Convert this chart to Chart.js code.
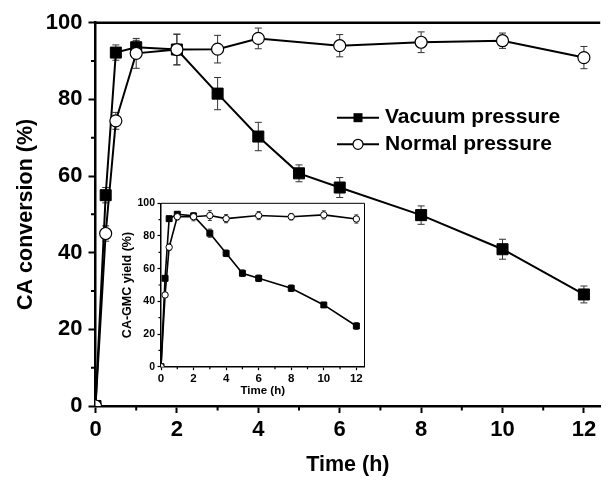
<!DOCTYPE html>
<html>
<head>
<meta charset="utf-8">
<script src="https://cdn.jsdelivr.net/npm/chart.js@4/dist/chart.umd.min.js"></script>
<style>
  html, body { margin: 0; padding: 0; background: #fff; }
  #wrap { position: relative; width: 609px; height: 482px; }
  #mainChart { position: absolute; left: 0; top: 0; }
  #insetChart { position: absolute; left: 105px; top: 190px; }
</style>
</head>
<body>
<div id="wrap">
  <canvas id="mainChart" width="609" height="482"></canvas>
  <canvas id="insetChart" width="265" height="210"></canvas>
</div>
<script>
// main panel - CA conversion (%)
const vacTime = [0, 0.25, 0.5, 1, 2, 3, 4, 5, 6, 8, 10, 12];
const vacConv = [0, 55, 92.2, 93.6, 93, 81.5, 70.3, 60.7, 57, 49.8, 40.9, 29.1];
const vacConvErr = [0, 2, 2, 1.8, 4, 4.2, 3.7, 2.2, 2.6, 2.4, 2.6, 2.2];
const normTime = [0, 0.25, 0.5, 1, 2, 3, 4, 6, 8, 10, 12];
const normConv = [0, 45, 74.4, 92, 93, 93.1, 95.9, 94, 94.9, 95.3, 90.9];
const normConvErr = [0, 2, 2.2, 3.9, 4, 3.6, 2.7, 2.9, 2.7, 2, 2.9];

// inset - CA-GMC yield (%)
const vacYield = [0, 54.1, 90.6, 93.3, 92.3, 81.7, 69.4, 57.2, 54.1, 48, 37.8, 24.9];
const vacYieldErr = [0, 1.5, 1.5, 1.5, 1.5, 2.5, 2, 2, 2, 2, 1.5, 2];
const normYield = [0, 43.9, 73.1, 91.8, 91.8, 92.5, 90.6, 92.5, 91.8, 92.9, 90.4];
const normYieldErr = [0, 1.5, 2, 2, 2.5, 3, 2.5, 2.5, 2, 2.5, 2.5];

const seriesNames = ['Vacuum pressure', 'Normal pressure'];
const timeTicks = [0, 2, 4, 6, 8, 10, 12];
const timeMinor = [1, 3, 5, 7, 9, 11];
const pctTicks = [0, 20, 40, 60, 80, 100];
const pctMinor = [10, 30, 50, 70, 90];

const FONT = '"Liberation Sans", Arial, sans-serif';
Chart.defaults.font.family = FONT;
Chart.defaults.color = '#000';

function toPoints(xs, ys) {
  return xs.map((t, i) => ({ x: t, y: ys[i] }));
}

// vertical error bars, drawn under the markers
const errorBars = {
  id: 'errorBars',
  beforeDatasetsDraw(chart, args, opts) {
    const { ctx } = chart;
    const xs = chart.scales.x, ys = chart.scales.y;
    ctx.save();
    ctx.strokeStyle = opts.color;
    ctx.lineWidth = opts.width;
    chart.data.datasets.forEach((ds) => {
      if (!ds.errors) return;
      ds.data.forEach((p, j) => {
        const e = ds.errors[j];
        if (!e) return;
        const x = xs.getPixelForValue(p.x);
        const top = ys.getPixelForValue(p.y + e);
        const bot = ys.getPixelForValue(p.y - e);
        ctx.beginPath();
        ctx.moveTo(x, top); ctx.lineTo(x, bot);
        ctx.moveTo(x - opts.cap, top); ctx.lineTo(x + opts.cap, top);
        ctx.moveTo(x - opts.cap, bot); ctx.lineTo(x + opts.cap, bot);
        ctx.stroke();
      });
    });
    ctx.restore();
  }
};

// minor ticks + top/right frame
const frame = {
  id: 'frame',
  afterDraw(chart, args, opts) {
    const { ctx, chartArea: a } = chart;
    const xs = chart.scales.x, ys = chart.scales.y;
    ctx.save();
    ctx.strokeStyle = '#000';
    ctx.lineWidth = opts.minorWidth;
    ctx.beginPath();
    timeMinor.forEach((v) => {
      const x = xs.getPixelForValue(v);
      ctx.moveTo(x, a.bottom); ctx.lineTo(x, a.bottom + opts.minorLen);
    });
    pctMinor.forEach((v) => {
      const y = ys.getPixelForValue(v);
      ctx.moveTo(a.left, y); ctx.lineTo(a.left - opts.minorLen, y);
    });
    ctx.stroke();
    ctx.lineWidth = opts.boxWidth;
    ctx.beginPath();
    ctx.moveTo(a.left, a.top); ctx.lineTo(a.right, a.top);
    if (opts.right) ctx.lineTo(a.right, a.bottom);
    ctx.stroke();
    ctx.restore();
  }
};

// line + marker legend inside the plot
const lineLegend = {
  id: 'lineLegend',
  afterDraw(chart, args, opts) {
    if (!opts.display) return;
    const { ctx } = chart;
    ctx.save();
    chart.data.datasets.forEach((ds, i) => {
      const y = opts.y + i * opts.gap;
      const cx = opts.x + opts.len / 2;
      ctx.strokeStyle = '#000';
      ctx.lineWidth = 2;
      ctx.beginPath(); ctx.moveTo(opts.x, y); ctx.lineTo(opts.x + opts.len, y); ctx.stroke();
      ctx.lineWidth = 1.2;
      if (ds.pointStyle === 'rect') {
        ctx.fillStyle = '#000';
        ctx.fillRect(cx - 4.5, y - 4.5, 9, 9);
      } else {
        ctx.fillStyle = '#fff';
        ctx.beginPath(); ctx.arc(cx, y, 5, 0, Math.PI * 2); ctx.fill(); ctx.stroke();
      }
      ctx.fillStyle = '#000';
      ctx.font = 'bold ' + opts.size + 'px ' + FONT;
      ctx.textBaseline = 'middle';
      ctx.fillText(ds.label, opts.x + opts.len + opts.textGap, y);
    });
    ctx.restore();
  }
};

function makeChart(el, s) {
  const datasets = [
    {
      label: seriesNames[0],
      data: toPoints(vacTime, s.vac),
      errors: s.vacErr,
      borderColor: '#000',
      borderWidth: s.line,
      backgroundColor: '#000',
      pointStyle: 'rect',
      pointRadius: s.rect,
      pointBackgroundColor: '#000',
      pointBorderColor: '#000',
      pointBorderWidth: 1,
      tension: 0,
      order: 2
    },
    {
      label: seriesNames[1],
      data: toPoints(normTime, s.norm),
      errors: s.normErr,
      borderColor: '#000',
      borderWidth: s.line,
      backgroundColor: '#fff',
      pointStyle: 'circle',
      pointRadius: s.circ,
      pointBackgroundColor: '#fff',
      pointBorderColor: '#000',
      pointBorderWidth: s.circBorder,
      tension: 0,
      order: 1
    }
  ];

  return new Chart(el, {
    type: 'line',
    data: { datasets },
    options: {
      responsive: false,
      animation: false,
      layout: { padding: { top: s.padTop, right: s.padRight, bottom: 0, left: 0 } },
      scales: {
        x: {
          type: 'linear',
          min: 0,
          max: s.xMax,
          afterBuildTicks: (sc) => { sc.ticks = timeTicks.map((v) => ({ value: v })); },
          afterFit: (sc) => { sc.height = s.xHeight; },
          border: { color: '#000', width: s.axisWidth },
          grid: { drawOnChartArea: false, tickLength: s.tickLen, tickWidth: s.tickWidth, tickColor: '#000' },
          ticks: { font: { size: s.tickFont, weight: 'bold' }, padding: s.xTickPad, maxRotation: 0 },
          title: { display: true, text: 'Time (h)', font: { size: s.xTitleFont, weight: 'bold' }, padding: { top: 0, bottom: s.xTitlePad } }
        },
        y: {
          min: 0,
          max: 100,
          afterBuildTicks: (sc) => { sc.ticks = pctTicks.map((v) => ({ value: v })); },
          afterFit: (sc) => { sc.width = s.yWidth; },
          border: { color: '#000', width: s.axisWidth },
          grid: { drawOnChartArea: false, tickLength: s.tickLen, tickWidth: s.tickWidth, tickColor: '#000' },
          ticks: { font: { size: s.yTickFont, weight: 'bold' }, padding: s.yTickPad },
          title: { display: true, text: s.yTitle, font: { size: s.yTitleFont, weight: 'bold' }, padding: { top: s.yTitlePad, bottom: 0 } }
        }
      },
      plugins: {
        legend: { display: false },
        tooltip: { enabled: false },
        errorBars: { color: '#333', width: 1, cap: s.cap },
        frame: { minorLen: s.minorLen, minorWidth: s.tickWidth, boxWidth: s.boxWidth, right: s.boxRight },
        lineLegend: s.legend
      }
    },
    plugins: [errorBars, frame, lineLegend]
  });
}

makeChart(document.getElementById('mainChart'), {
  vac: vacConv, vacErr: vacConvErr, norm: normConv, normErr: normConvErr,
  yTitle: 'CA conversion (%)',
  line: 2, rect: 7.8, circ: 6, circBorder: 1.2, cap: 3.5,
  padTop: 22.7, padRight: 0, xMax: 12.4, xHeight: 76, yWidth: 95.5,
  axisWidth: 2.5, boxWidth: 2.5, boxRight: false,
  tickLen: 7, tickWidth: 2, minorLen: 4.5,
  tickFont: 22, yTickFont: 22, xTitleFont: 21.5, yTitleFont: 21.5,
  xTickPad: 4, yTickPad: 6, xTitlePad: 4.2, yTitlePad: 13,
  legend: { display: true, x: 337, y: 117.7, gap: 26.6, len: 42, textGap: 6, size: 21 }
});

makeChart(document.getElementById('insetChart'), {
  vac: vacYield, vacErr: vacYieldErr, norm: normYield, normErr: normYieldErr,
  yTitle: 'CA-GMC yield (%)',
  line: 1.6, rect: 4.2, circ: 3.2, circBorder: 1, cap: 2,
  padTop: 13.3, padRight: 5.5, xMax: 12.5, xHeight: 33.3, yWidth: 56,
  axisWidth: 1.5, boxWidth: 1, boxRight: true,
  tickLen: 3.5, tickWidth: 1.2, minorLen: 2.5,
  tickFont: 11.5, yTickFont: 10.5, xTitleFont: 11.5, yTitleFont: 12.5,
  xTickPad: 1.5, yTickPad: 2.5, xTitlePad: 1.8, yTitlePad: 15.5,
  legend: { display: false }
});
</script>
</body>
</html>
